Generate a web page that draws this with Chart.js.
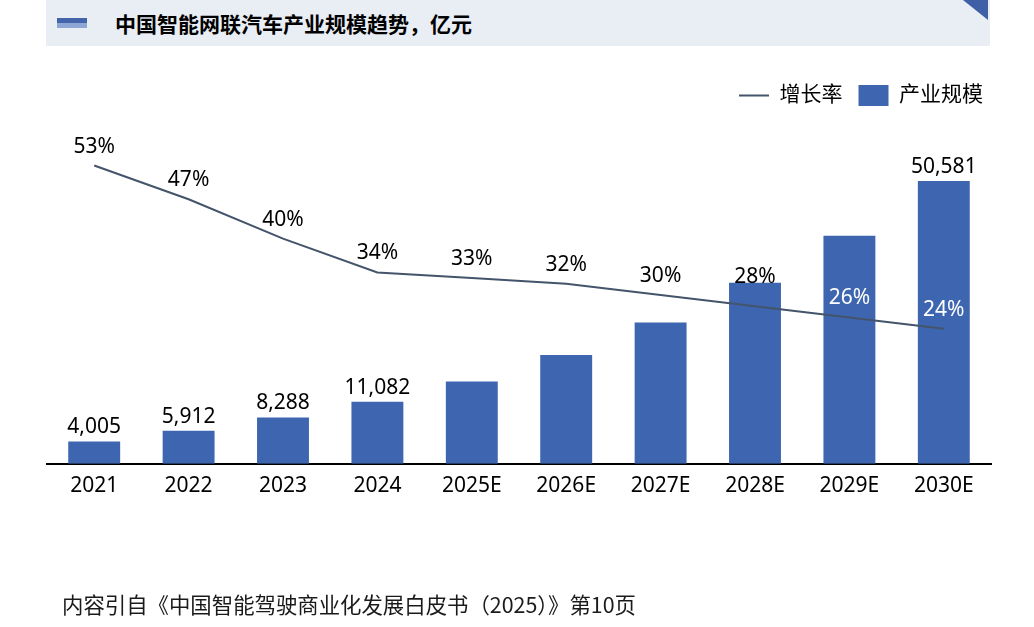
<!DOCTYPE html>
<html>
<head>
<meta charset="utf-8">
<script src="https://cdn.jsdelivr.net/npm/chart.js@4/dist/chart.umd.min.js"></script>
<style>
  html, body { margin: 0; padding: 0; background: #fff; }
  body { width: 1034px; height: 627px; position: relative; overflow: hidden; font-family: "Noto Sans", "Noto Sans CJK SC", sans-serif; }
  #wrap { position: absolute; left: 0; top: 0; width: 1034px; height: 627px; }
  .header { position: absolute; left: 46px; top: 0; width: 944px; height: 46px; background: #e9edf4; }
  .header .stripe1 { position: absolute; left: 11px; top: 18px; width: 30px; height: 5px; background: #4465a9; }
  .header .stripe2 { position: absolute; left: 11px; top: 23px; width: 30px; height: 5px; background: #8da6d4; }
  .header .corner { position: absolute; right: 2px; top: 0; width: 0; height: 0; border-top: 20px solid #3f5fa6; border-left: 25px solid transparent; }
  .header .title { position: absolute; left: 69px; top: 0; line-height: 46px; font-weight: bold; font-size: 21px; font-family: "Noto Sans CJK SC", sans-serif; color: #000; white-space: nowrap; }
  .footer { position: absolute; left: 62px; top: 588px; font-size: 21.4px; line-height: 32px; font-family: "Noto Sans CJK SC", sans-serif; color: #1a1a1a; white-space: nowrap; }
</style>
</head>
<body>
<div class="header">
  <div class="stripe1"></div>
  <div class="stripe2"></div>
  <div class="title">中国智能网联汽车产业规模趋势，亿元</div>
  <div class="corner"></div>
</div>
<div id="wrap"><canvas id="chart"></canvas></div>
<div class="footer">内容引自《中国智能驾驶商业化发展白皮书（2025）》第10页</div>

<script>
// data
const categories = ['2021', '2022', '2023', '2024', '2025E', '2026E', '2027E', '2028E', '2029E', '2030E']
const scaleValues = [4005, 5912, 8288, 11082, 14739, 19455, 25292, 32374, 40791, 50581]
const growthRates = [53, 47, 40, 34, 33, 32, 30, 28, 26, 24]
const scaleLabelShown = [true, true, true, true, false, false, false, false, false, true]

const COLORS = {
  bar: '#3e66b0',
  line: '#44546a',
  text: '#000000'
}
const FONT = '"Noto Sans", "Noto Sans CJK SC", sans-serif'

/**
 * Draws the value labels: bar sizes above the bars, growth rates above the line.
 */
const valueLabels = {
  id: 'valueLabels',
  afterDatasetsDraw (chart) {
    const ctx = chart.ctx
    ctx.save()
    ctx.font = '21px ' + FONT
    ctx.textAlign = 'center'
    ctx.textBaseline = 'middle'

    const barMeta = chart.getDatasetMeta(1)
    barMeta.data.forEach((bar, i) => {
      if (!scaleLabelShown[i]) return
      ctx.fillStyle = COLORS.text
      ctx.fillText(scaleValues[i].toLocaleString('en-US'), bar.x, bar.y - 14)
    })

    const lineMeta = chart.getDatasetMeta(0)
    lineMeta.data.forEach((pt, i) => {
      // the last two sit inside the bars, so they are white
      ctx.fillStyle = i >= 8 ? '#ffffff' : COLORS.text
      const lift = i === 7 ? 29 : 19
      ctx.fillText(growthRates[i] + '%', pt.x, pt.y - lift)
    })
    ctx.restore()
  }
}

new Chart(document.getElementById('chart'), {
  data: {
    labels: categories,
    datasets: [
      {
        type: 'line',
        label: '增长率',
        data: growthRates,
        yAxisID: 'y1',
        borderColor: COLORS.line,
        borderWidth: 2,
        pointRadius: 0,
        tension: 0,
        order: 0
      },
      {
        type: 'bar',
        label: '产业规模',
        data: scaleValues,
        yAxisID: 'y',
        backgroundColor: COLORS.bar,
        barPercentage: 0.55,
        categoryPercentage: 1,
        order: 1
      }
    ]
  },
  options: {
    responsive: true,
    maintainAspectRatio: false,
    animation: false,
    layout: {
      padding: { left: 47, right: 35, top: 69, bottom: 118 }
    },
    plugins: {
      tooltip: { enabled: false },
      legend: {
        position: 'top',
        align: 'end',
        labels: {
          usePointStyle: true,
          pointStyleWidth: 30,
          padding: 16,
          color: COLORS.text,
          font: { size: 21, family: FONT },
          generateLabels: (chart) => {
            return [
              {
                text: '增长率',
                pointStyle: 'line',
                strokeStyle: COLORS.line,
                fillStyle: COLORS.line,
                lineWidth: 2,
                datasetIndex: 0
              },
              {
                text: '产业规模',
                pointStyle: 'rect',
                fillStyle: COLORS.bar,
                strokeStyle: COLORS.bar,
                lineWidth: 0,
                datasetIndex: 1
              }
            ]
          }
        }
      }
    },
    scales: {
      x: {
        grid: { display: false, drawTicks: false },
        border: { display: true, color: '#000000', width: 2 },
        ticks: { color: COLORS.text, padding: 10, font: { size: 21, family: FONT } }
      },
      y: {
        display: false,
        min: 0,
        max: 62200
      },
      y1: {
        position: 'right',
        min: 0,
        max: 61.8,
        grid: { display: false, drawTicks: false },
        border: { display: false },
        ticks: { display: false },
        afterFit: (scale) => { scale.width = 8 }
      }
    }
  },
  plugins: [valueLabels]
})
</script>
</body>
</html>
